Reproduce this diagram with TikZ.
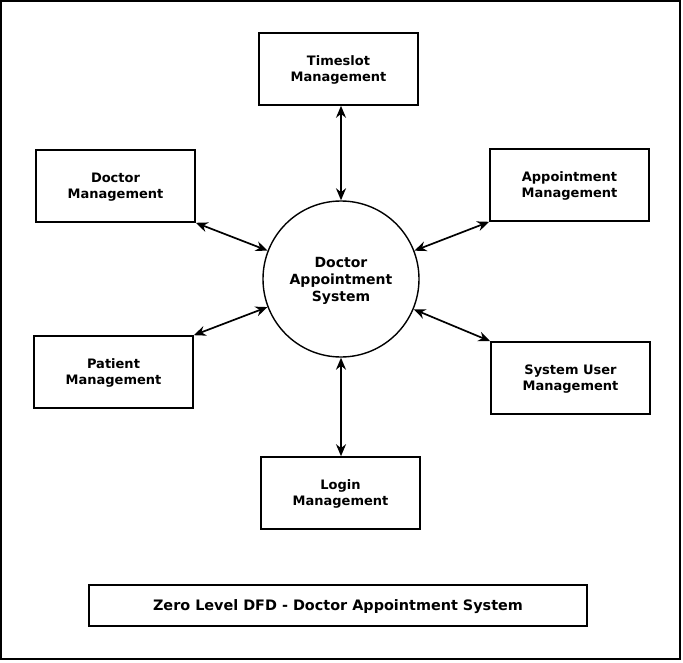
\documentclass[tikz,border=0pt]{standalone}
\usepackage{fontspec}
\setmainfont{DejaVu Sans}
\usepackage{tikz}
\usetikzlibrary{shapes,arrows.meta}
\tikzstyle{block} = [rectangle, draw, fill=white, line width=1.6pt,
    minimum width=159pt, minimum height=72pt, align=center, text depth=0pt,
    font=\fontsize{13}{16}\selectfont\bfseries]
\tikzstyle{process} = [circle, draw, fill=white, line width=1.4pt,
    minimum size=156pt, inner sep=0pt, align=center, text depth=0pt,
    font=\fontsize{14}{17}\selectfont\bfseries]
\tikzstyle{line} = [draw, line width=1.7pt,
    {Stealth[length=12pt,width=10pt]}-{Stealth[length=12pt,width=10pt]}]

\begin{document}
\begin{tikzpicture}[x=1pt, y=-1pt]
        \useasboundingbox (0,0) rectangle (683,662);
        \draw [line width=2pt] (1,1) rectangle (679.5,658.5);

        % Process
        \node [process] (sys) at (341,279) {Doctor\\Appointment\\System};

        % Entities
        \node [block] (timeslot) at (338.5,69) {Timeslot\\Management};
        \node [block] (doctor) at (115.5,186) {Doctor\\Management};
        \node [block] (appt) at (569.5,185) {Appointment\\Management};
        \node [block] (patient) at (113.5,372) {Patient\\Management};
        \node [block] (sysuser) at (570.5,378) {System User\\Management};
        \node [block] (login) at (340.5,493) {Login\\Management};

        % Connections
        \path [line] (timeslot.south -| sys.north) -- (sys.north);
        \path [line] (doctor.south east) -- (sys);
        \path [line] (appt.south west) -- (sys);
        \path [line] (patient.north east) -- (sys);
        \path [line] (sysuser.north west) -- (sys);
        \path [line] (login.north -| sys.south) -- (sys.south);

        % Caption
        \node [block, minimum width=498pt, minimum height=41pt,
            font=\fontsize{14.4}{17}\selectfont\bfseries] (caption) at (338,605.5)
            {Zero Level DFD - Doctor Appointment System};
    \end{tikzpicture}
\end{document}
